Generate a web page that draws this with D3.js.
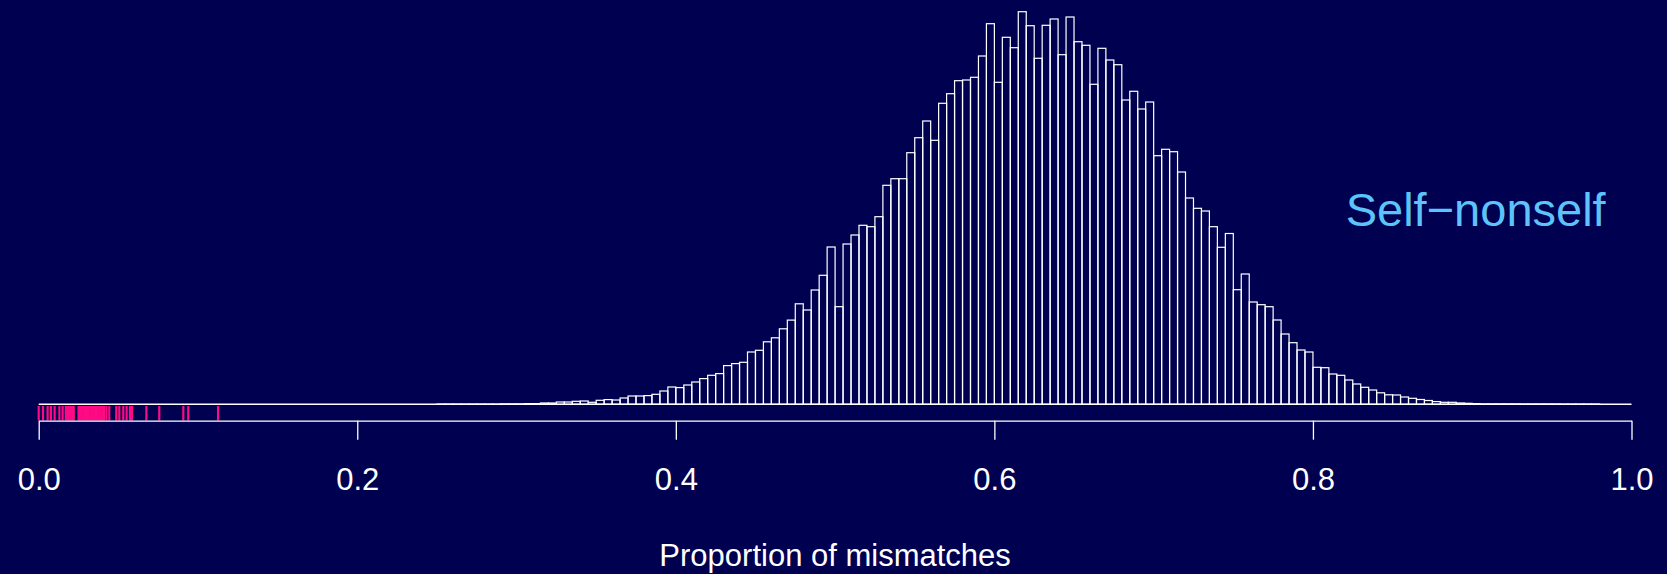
<!DOCTYPE html>
<html>
<head>
<meta charset="utf-8">
<script src="https://cdn.jsdelivr.net/npm/d3@7"></script>
<style>
  html, body { margin: 0; padding: 0; background: #000050; }
  svg { display: block; }
  text { font-family: "Liberation Sans", Arial, Helvetica, sans-serif; }
</style>
</head>
<body>
<svg id="chart" width="1667" height="574"></svg>
<script>
// ---- Data ----
const binWidth = 0.005;
// histogram bin counts, bins of 0.005 from 0.000 to 1.000 (200 bins)
const binCounts = [
  0,0,0,0,0,0,0,0,0,0, 0,0,0,0,0,0,0,0,0,0,
  0,0,0,0,0,0,0,0,0,0, 0,0,0,0,0,0,0,0,0,0,
  0,0,0,0,0,0,0,0,0,0, 2,2,2,2,2,2,2,2,4,4,
  4,7,7,13,13,23,23,30,33,20, 40,47,43,63,83,83,87,100,133,173,
  167,193,223,257,290,307,387,407,420,523, 540,625,665,755,842,1005,943,1143,1290,1573,
  976,1603,1693,1790,1776,1876,2190,2256,2256,2516, 2666,2833,2640,3010,3106,3236,3243,3270,3483,3806,
  3220,3670,3566,3926,3786,3460,3790,3853,3496,3873, 3626,3590,3200,3560,3443,3396,3043,3130,2953,3023,
  2486,2550,2526,2323,2063,1960,1933,1776,1570,1708, 1146,1303,1023,996,976,843,703,616,543,523,
  370,366,303,290,243,203,170,143,115,95, 93,73,60,48,38,27,20,20,13,10,
  7,4,4,4,4,4,3,3,3,3, 3,2,2,2,2,2,0,0,0,0
];
// self-self proportions shown as rug marks
const rugValues = [
  0.000, 0.0027, 0.0056, 0.0077, 0.010, 0.013, 0.015,
  0.017, 0.018, 0.019, 0.020, 0.021, 0.022,
  0.025, 0.026, 0.027, 0.028, 0.029, 0.030, 0.031, 0.032, 0.033,
  0.034, 0.035, 0.036, 0.037, 0.038, 0.039, 0.040, 0.041,
  0.0425, 0.0443, 0.0487, 0.0506, 0.0531, 0.0552, 0.0573, 0.0586,
  0.0676, 0.0757, 0.0908, 0.0939, 0.1126
];
const tickValues = [0, 0.2, 0.4, 0.6, 0.8, 1.0];
const tickLabels = ["0.0", "0.2", "0.4", "0.6", "0.8", "1.0"];
const xTitle = "Proportion of mismatches";
const seriesLabel = "Self\u2212nonself";

// ---- Drawing ----
const svg = d3.select("#chart");
svg.append("rect").attr("width", 1667).attr("height", 574).attr("fill", "#000050");

const x = d3.scaleLinear().domain([0, 1]).range([38.7, 1631.5]);
const baseY = 404.3;
const y = d3.scaleLinear().domain([0, d3.max(binCounts)]).range([baseY, 11.7]);

const bins = binCounts.map((c, i) => ({ x0: i * binWidth, x1: (i + 1) * binWidth, c }));

// zero-height bins still show as a flat outline along the base
svg.append("line")
  .attr("x1", x(0)).attr("x2", x(binCounts.length * binWidth))
  .attr("y1", y(0)).attr("y2", y(0))
  .attr("stroke", "#ffffff")
  .attr("stroke-width", 1.4);

svg.append("g").selectAll("rect")
  .data(bins.filter(d => d.c > 0))
  .join("rect")
  .attr("x", d => x(d.x0))
  .attr("width", d => x(d.x1) - x(d.x0))
  .attr("y", d => y(d.c))
  .attr("height", d => baseY - y(d.c))
  .attr("fill", "none")
  .attr("stroke", "#ffffff")
  .attr("stroke-width", 1.2);

// rug
svg.append("g").selectAll("line")
  .data(rugValues)
  .join("line")
  .attr("x1", d => x(d)).attr("x2", d => x(d))
  .attr("y1", 420.5).attr("y2", 406)
  .attr("stroke", "#ff0a84")
  .attr("stroke-width", 2.2);

// axis
const axis = d3.axisBottom(x)
  .tickValues(tickValues)
  .tickFormat((d, i) => tickLabels[i])
  .tickSize(19)
  .tickSizeOuter(0);

const ag = svg.append("g").attr("transform", "translate(0,420.7)").call(axis);
ag.select(".domain").attr("stroke", "#ffffff").attr("stroke-width", 1.3);
ag.selectAll(".tick line").attr("stroke", "#ffffff").attr("stroke-width", 1.3);
ag.selectAll(".tick text")
  .attr("fill", "#ffffff")
  .attr("y", 69).attr("dy", 0)
  .style("font-size", "31px")
  .style("font-family", "'Liberation Sans', Arial, Helvetica, sans-serif");

svg.append("text")
  .attr("x", x(0.5)).attr("y", 565.7)
  .attr("text-anchor", "middle")
  .attr("fill", "#ffffff")
  .style("font-size", "31px")
  .text(xTitle);

svg.append("text")
  .attr("x", 1345.7).attr("y", 225.7)
  .attr("text-anchor", "start")
  .attr("fill", "#5cc4fa")
  .style("font-size", "47px")
  .text(seriesLabel);
</script>
</body>
</html>
